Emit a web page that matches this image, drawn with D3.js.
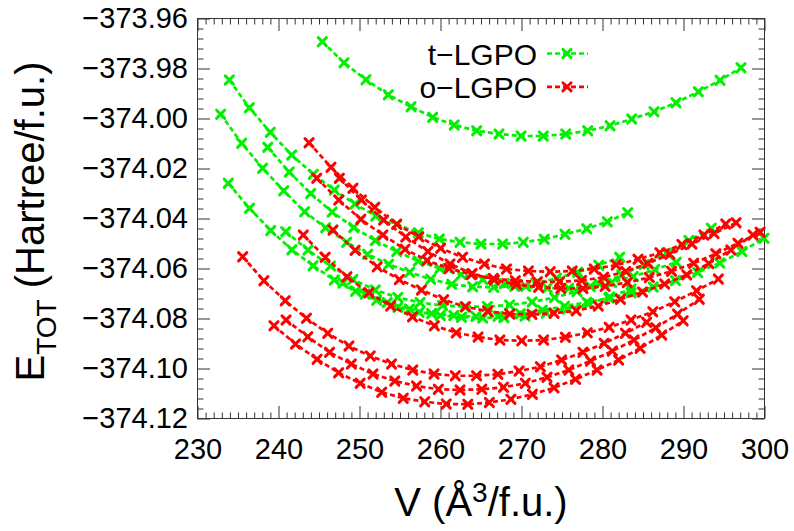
<!DOCTYPE html>
<html>
<head>
<meta charset="utf-8">
<script src="https://cdn.jsdelivr.net/npm/d3@7"></script>
<style>
  html, body { margin: 0; padding: 0; background: #fff; }
  svg { display: block; }
  text { font-family: "Liberation Sans", Arial, Helvetica, sans-serif; fill: #000; }
</style>
</head>
<body>
<svg id="chart" width="794" height="531"></svg>
<script>
// ---------- tick labels ----------
const xTickValues = [230, 240, 250, 260, 270, 280, 290, 300];
const yTickValues = [-373.96, -373.98, -374.00, -374.02, -374.04, -374.06, -374.08, -374.10, -374.12];

// ---------- legend ----------
const seriesNames = ["t\u2212LGPO", "o\u2212LGPO"];

// ---------- t-LGPO (green) curves: volume (Å^3/f.u.) and energy (Hartree/f.u.) ----------
const tV1 = [245.41,248.09,250.80,253.56,256.36,259.04,261.70,264.47,267.22,269.94,272.69,275.46,278.17,280.93,283.60,286.36,289.07,291.83,294.51,297.10];
const tE1 = [-373.9693,-373.9777,-373.9845,-373.9905,-373.9953,-373.9995,-374.0026,-374.0049,-374.0062,-374.0070,-374.0070,-374.0062,-374.0049,-374.0029,-374.0002,-373.9973,-373.9937,-373.9893,-373.9847,-373.9797];
const tV2 = [233.93,236.40,238.99,241.63,244.30,246.89,249.44,252.00,254.59,257.26,259.85,262.41,265.00,267.68,270.22,272.81,275.37,278.05,280.59,283.11];
const tE2 = [-373.9846,-373.9957,-374.0055,-374.0146,-374.0223,-374.0286,-374.0342,-374.0390,-374.0423,-374.0457,-374.0482,-374.0495,-374.0502,-374.0502,-374.0495,-374.0483,-374.0463,-374.0441,-374.0413,-374.0377];
const tV3 = [232.86,235.45,238.04,240.64,243.23,245.82,248.42,251.01,253.60,256.19,258.79,261.38,263.97,266.56,269.16,271.75,274.34,276.94,279.53,282.12];
const tE3 = [-373.9983,-374.0099,-374.0199,-374.0289,-374.0373,-374.0437,-374.0495,-374.0543,-374.0583,-374.0615,-374.0643,-374.0663,-374.0673,-374.0675,-374.0671,-374.0659,-374.0639,-374.0615,-374.0587,-374.0555];
const tV4 = [233.80,236.42,239.04,241.65,244.27,246.89,249.51,252.12,254.74,257.36,259.98,262.59,265.21,267.83,270.44,273.06,275.68,278.30,280.91,283.53];
const tE4 = [-374.0259,-374.0359,-374.0448,-374.0525,-374.0589,-374.0646,-374.0691,-374.0727,-374.0755,-374.0775,-374.0788,-374.0795,-374.0798,-374.0796,-374.0790,-374.0778,-374.0762,-374.0740,-374.0714,-374.0682];
const tV5 = [238.67,241.33,243.98,246.63,249.29,251.94,254.60,257.25,259.91,262.56,265.22,267.87,270.52,273.18,275.83,278.49,281.14,283.80,286.45,289.11];
const tE5 = [-374.0115,-374.0214,-374.0300,-374.0374,-374.0436,-374.0488,-374.0532,-374.0570,-374.0600,-374.0624,-374.0644,-374.0660,-374.0671,-374.0678,-374.0679,-374.0672,-374.0656,-374.0632,-374.0604,-374.0575];
const tV6 = [240.89,243.65,246.42,249.19,251.95,254.72,257.48,260.25,263.01,265.78,268.54,271.31,274.07,276.84,279.60,282.37,285.14,287.90,290.67,293.43];
const tE6 = [-374.0453,-374.0526,-374.0590,-374.0644,-374.0686,-374.0716,-374.0736,-374.0748,-374.0753,-374.0752,-374.0746,-374.0734,-374.0716,-374.0692,-374.0662,-374.0626,-374.0584,-374.0538,-374.0488,-374.0439];
const tV7 = [247.96,250.70,253.43,256.17,258.90,261.64,264.38,267.11,269.85,272.58,275.32,278.06,280.79,283.53,286.26,289.00,291.74,294.47,297.21,299.94];
const tE7 = [-374.0658,-374.0702,-374.0736,-374.0762,-374.0780,-374.0788,-374.0792,-374.0791,-374.0781,-374.0767,-374.0751,-374.0735,-374.0718,-374.0697,-374.0674,-374.0648,-374.0616,-374.0578,-374.0532,-374.0479];

// ---------- o-LGPO (red) curves ----------
const oV1 = [243.77,246.48,249.19,251.89,254.60,257.31,260.02,262.72,265.43,268.14,270.85,273.55,276.26,278.97,281.68,284.38,287.09,289.80,292.51,295.21];
const oE1 = [-374.0097,-374.0195,-374.0279,-374.0355,-374.0423,-374.0473,-374.0519,-374.0555,-374.0582,-374.0602,-374.0610,-374.0613,-374.0610,-374.0602,-374.0586,-374.0563,-374.0537,-374.0504,-374.0466,-374.0422];
const oV2 = [244.72,247.44,250.17,252.89,255.62,258.34,261.07,263.79,266.52,269.24,271.97,274.69,277.42,280.14,282.87,285.59,288.32,291.04,293.77,296.49];
const oE2 = [-374.0239,-374.0326,-374.0403,-374.0466,-374.0523,-374.0568,-374.0600,-374.0624,-374.0640,-374.0649,-374.0653,-374.0653,-374.0648,-374.0635,-374.0612,-374.0580,-374.0543,-374.0502,-374.0460,-374.0417];
const oV3 = [247.51,250.24,252.98,255.71,258.45,261.18,263.91,266.65,269.38,272.11,274.85,277.58,280.32,283.05,285.78,288.52,291.25,293.99,296.72,299.46];
const oE3 = [-374.0239,-374.0326,-374.0406,-374.0474,-374.0532,-374.0582,-374.0620,-374.0646,-374.0664,-374.0675,-374.0680,-374.0680,-374.0671,-374.0656,-374.0636,-374.0611,-374.0579,-374.0541,-374.0499,-374.0455];
const oV4 = [246.73,249.46,252.19,254.92,257.65,260.38,263.10,265.83,268.56,271.29,274.02,276.75,279.48,282.21,284.94,287.67,290.39,293.12,295.85,298.58];
const oE4 = [-374.0446,-374.0527,-374.0593,-374.0644,-374.0686,-374.0725,-374.0753,-374.0771,-374.0782,-374.0783,-374.0779,-374.0769,-374.0750,-374.0723,-374.0694,-374.0662,-374.0625,-374.0580,-374.0526,-374.0466];
const oV5 = [243.06,245.76,248.45,251.15,253.85,256.54,259.24,261.94,264.64,267.33,270.03,272.73,275.42,278.12,280.82,283.52,286.21,288.91,291.61,294.30];
const oE5 = [-374.0466,-374.0555,-374.0633,-374.0697,-374.0750,-374.0793,-374.0829,-374.0857,-374.0874,-374.0886,-374.0889,-374.0886,-374.0875,-374.0857,-374.0835,-374.0806,-374.0773,-374.0733,-374.0689,-374.0642];
const oV6 = [235.58,238.20,240.83,243.45,246.08,248.70,251.33,253.95,256.58,259.20,261.83,264.45,267.08,269.70,272.33,274.95,277.58,280.20,282.83,285.45];
const oE6 = [-374.0553,-374.0649,-374.0729,-374.0799,-374.0859,-374.0910,-374.0950,-374.0982,-374.1006,-374.1022,-374.1029,-374.1029,-374.1023,-374.1010,-374.0993,-374.0966,-374.0935,-374.0899,-374.0859,-374.0815];
const oV7 = [240.93,243.62,246.30,248.99,251.67,254.36,257.04,259.73,262.41,265.10,267.78,270.47,273.15,275.84,278.52,281.21,283.89,286.58,289.26,291.95];
const oE7 = [-374.0806,-374.0873,-374.0935,-374.0982,-374.1022,-374.1050,-374.1070,-374.1083,-374.1086,-374.1083,-374.1075,-374.1059,-374.1035,-374.1006,-374.0970,-374.0930,-374.0886,-374.0837,-374.0782,-374.0723];
const oV8 = [239.44,242.10,244.76,247.42,250.08,252.74,255.40,258.05,260.71,263.37,266.03,268.69,271.35,274.01,276.67,279.33,281.99,284.65,287.31,289.96];
const oE8 = [-374.0829,-374.0902,-374.0963,-374.1017,-374.1059,-374.1095,-374.1119,-374.1133,-374.1142,-374.1143,-374.1136,-374.1123,-374.1103,-374.1077,-374.1043,-374.1006,-374.0966,-374.0919,-374.0866,-374.0809];

const tCurves = [[tV1,tE1],[tV2,tE2],[tV3,tE3],[tV4,tE4],[tV5,tE5],[tV6,tE6],[tV7,tE7]];
const oCurves = [[oV1,oE1],[oV2,oE2],[oV3,oE3],[oV4,oE4],[oV5,oE5],[oV6,oE6],[oV7,oE7],[oV8,oE8]];

// ---------- layout ----------
const plot = { left: 197.5, right: 764.5, top: 18.5, bottom: 418.5 };
const GREEN = "#00f000", RED = "#ff0000", FRAME = "#333";

const svg = d3.select("#chart");
const x = d3.scaleLinear().domain([230, 300]).range([plot.left, plot.right]);
const y = d3.scaleLinear().domain([-374.12, -373.96]).range([plot.bottom, plot.top]);

const fmtY = v => d3.format(".2f")(v).replace("-", "\u2212");
const minorX = d3.range(230, 301, 1).filter(v => v % 10 !== 0);
const minorY = d3.range(0, 41).map(i => -374.12 + i * 0.004).filter((v, i) => i % 5 !== 0);

function styleAxis(g) {
  g.select(".domain").remove();
  g.selectAll(".tick line").attr("stroke", FRAME).attr("stroke-width", 1);
  g.selectAll(".tick text").attr("font-size", 29).attr("fill", "#000")
    .attr("font-family", '"Liberation Sans", Arial, sans-serif');
}

// major + minor ticks on all four sides (inward)
svg.append("g").attr("transform", `translate(0,${plot.bottom})`)
  .call(d3.axisBottom(x).tickValues(xTickValues).tickFormat(d3.format("d")).tickSize(-12.5).tickSizeOuter(0).tickPadding(20))
  .call(styleAxis);
svg.append("g").attr("transform", `translate(0,${plot.bottom})`)
  .call(d3.axisBottom(x).tickValues(minorX).tickFormat("").tickSize(-6).tickSizeOuter(0)).call(styleAxis);
svg.append("g").attr("transform", `translate(0,${plot.top})`)
  .call(d3.axisTop(x).tickValues(xTickValues).tickFormat("").tickSize(-12.5).tickSizeOuter(0)).call(styleAxis);
svg.append("g").attr("transform", `translate(0,${plot.top})`)
  .call(d3.axisTop(x).tickValues(minorX).tickFormat("").tickSize(-6).tickSizeOuter(0)).call(styleAxis);

svg.append("g").attr("transform", `translate(${plot.left},0)`)
  .call(d3.axisLeft(y).tickValues(yTickValues).tickFormat(fmtY).tickSize(-12.5).tickSizeOuter(0).tickPadding(9.5))
  .call(styleAxis);
svg.append("g").attr("transform", `translate(${plot.left},0)`)
  .call(d3.axisLeft(y).tickValues(minorY).tickFormat("").tickSize(-6).tickSizeOuter(0)).call(styleAxis);
svg.append("g").attr("transform", `translate(${plot.right},0)`)
  .call(d3.axisRight(y).tickValues(yTickValues).tickFormat("").tickSize(-12.5).tickSizeOuter(0)).call(styleAxis);
svg.append("g").attr("transform", `translate(${plot.right},0)`)
  .call(d3.axisRight(y).tickValues(minorY).tickFormat("").tickSize(-6).tickSizeOuter(0)).call(styleAxis);

// frame
svg.append("rect")
  .attr("x", plot.left).attr("y", plot.top)
  .attr("width", plot.right - plot.left).attr("height", plot.bottom - plot.top)
  .attr("fill", "none").attr("stroke", FRAME).attr("stroke-width", 1);

// ---------- curves ----------
const line = d3.line().x(d => x(d[0])).y(d => y(d[1]));
const MS = 4.1; // marker half size

function drawCross(g, cx, cy, color) {
  g.append("path")
    .attr("d", `M${cx - MS},${cy - MS}L${cx + MS},${cy + MS}M${cx - MS},${cy + MS}L${cx + MS},${cy - MS}`)
    .attr("stroke", color).attr("stroke-width", 2.9).attr("stroke-linecap", "round").attr("fill", "none");
}

function drawCurve(V, E, color) {
  const pts = V.map((v, i) => [v, E[i]]);
  const g = svg.append("g");
  g.append("path").attr("d", line(pts))
    .attr("fill", "none").attr("stroke", color).attr("stroke-width", 2.7)
    .attr("stroke-dasharray", "5,3");
  pts.forEach(p => drawCross(g, x(p[0]), y(p[1]), color));
}

tCurves.forEach(c => drawCurve(c[0], c[1], GREEN));
oCurves.forEach(c => drawCurve(c[0], c[1], RED));

// ---------- legend ----------
const legend = svg.append("g");
[[seriesNames[0], GREEN, 53.5], [seriesNames[1], RED, 86.8]].forEach(([name, color, cy]) => {
  legend.append("text").attr("x", 537).attr("y", cy + 11).attr("text-anchor", "end")
    .attr("font-size", 30).text(name);
  legend.append("line").attr("x1", 547).attr("x2", 588).attr("y1", cy).attr("y2", cy)
    .attr("stroke", color).attr("stroke-width", 2.7).attr("stroke-dasharray", "5,3");
  drawCross(legend, 567, cy, color);
});

// ---------- axis titles ----------
const xt = svg.append("text").attr("x", 481).attr("y", 516).attr("text-anchor", "middle").attr("font-size", 40);
xt.append("tspan").text("V (\u00C5");
xt.append("tspan").attr("font-size", 28).attr("dy", -14.5).text("3");
xt.append("tspan").attr("dy", 14.5).text("/f.u.)");

const yt = svg.append("text").attr("transform", "translate(44,221.5) rotate(-90)")
  .attr("text-anchor", "middle").attr("font-size", 40);
yt.append("tspan").text("E");
yt.append("tspan").attr("font-size", 28).attr("dy", 11.6).text("TOT");
yt.append("tspan").attr("dy", -11.6).text(" (Hartree/f.u.)");
</script>
</body>
</html>
